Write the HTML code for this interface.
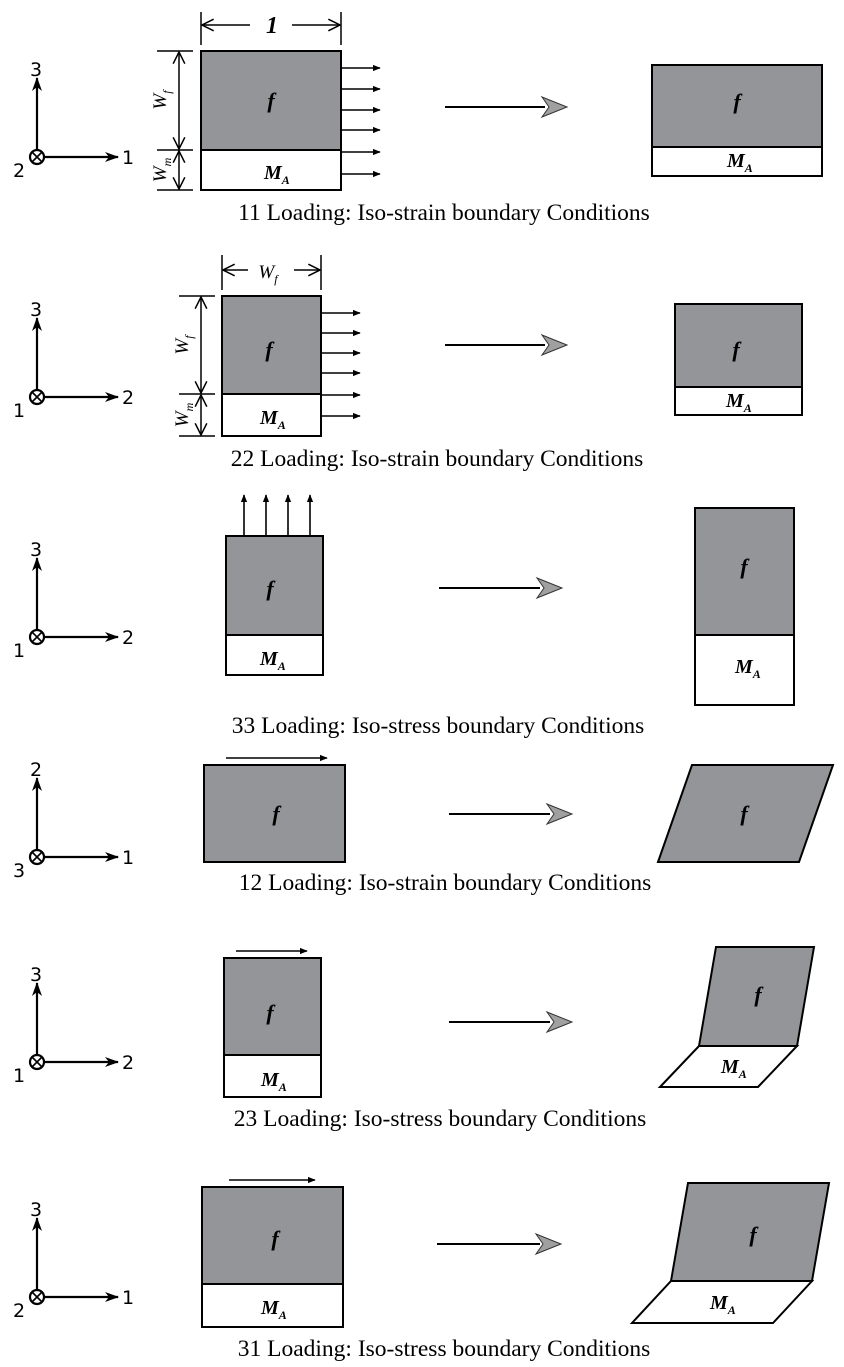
<!DOCTYPE html>
<html><head><meta charset="utf-8"><style>
html,body{margin:0;padding:0;background:#fff}
svg{display:block}
.ax{font-family:"DejaVu Sans",sans-serif;font-size:19px}
.cap{font-family:"Liberation Serif",serif;font-size:23.5px}
.it{font-family:"Liberation Serif",serif;font-style:italic;font-weight:bold}
</style></head><body>
<svg width="844" height="1367" viewBox="0 0 844 1367" xmlns="http://www.w3.org/2000/svg">
<defs>
<marker id="a" viewBox="0 0 14 12" refX="13" refY="6" markerWidth="14" markerHeight="12" markerUnits="userSpaceOnUse" orient="auto"><path d="M0,1 L14,6 L0,11 L4,6z" fill="#000"/></marker>
<marker id="s" viewBox="0 0 10 10" refX="9" refY="5" markerWidth="8" markerHeight="8" markerUnits="userSpaceOnUse" orient="auto"><path d="M0,1 L10,5 L0,9z" fill="#000"/></marker>
<marker id="o" viewBox="0 0 12 12" refX="11" refY="6" markerWidth="14" markerHeight="14" markerUnits="userSpaceOnUse" orient="auto-start-reverse"><path d="M1,1 L11,6 L1,11" fill="none" stroke="#000" stroke-width="1.3"/></marker>
<g id="bigArrowHead"><path d="M-25,-10 L0,0 L-25,10 L-18,0z" fill="#a0a0a0" stroke="#333" stroke-width="1"/></g>
</defs>

<g stroke="#000" stroke-width="2.2" fill="none">
<line x1="44" y1="157" x2="118" y2="157" marker-end="url(#a)"/><line x1="37" y1="150" x2="37" y2="78" marker-end="url(#a)"/><circle cx="37" cy="157" r="7"/><path d="M32,152 L42,162 M42,152 L32,162" stroke-width="1.6"/>
<line x1="44" y1="397" x2="118" y2="397" marker-end="url(#a)"/><line x1="37" y1="390" x2="37" y2="318" marker-end="url(#a)"/><circle cx="37" cy="397" r="7"/><path d="M32,392 L42,402 M42,392 L32,402" stroke-width="1.6"/>
<line x1="44" y1="637" x2="118" y2="637" marker-end="url(#a)"/><line x1="37" y1="630" x2="37" y2="558" marker-end="url(#a)"/><circle cx="37" cy="637" r="7"/><path d="M32,632 L42,642 M42,632 L32,642" stroke-width="1.6"/>
<line x1="44" y1="857" x2="118" y2="857" marker-end="url(#a)"/><line x1="37" y1="850" x2="37" y2="778" marker-end="url(#a)"/><circle cx="37" cy="857" r="7"/><path d="M32,852 L42,862 M42,852 L32,862" stroke-width="1.6"/>
<line x1="44" y1="1062" x2="118" y2="1062" marker-end="url(#a)"/><line x1="37" y1="1055" x2="37" y2="983" marker-end="url(#a)"/><circle cx="37" cy="1062" r="7"/><path d="M32,1057 L42,1067 M42,1057 L32,1067" stroke-width="1.6"/>
<line x1="44" y1="1297" x2="118" y2="1297" marker-end="url(#a)"/><line x1="37" y1="1290" x2="37" y2="1218" marker-end="url(#a)"/><circle cx="37" cy="1297" r="7"/><path d="M32,1292 L42,1302 M42,1292 L32,1302" stroke-width="1.6"/>
</g>
<g class="ax">
<text x="30" y="76">3</text><text x="122" y="164">1</text><text x="13" y="177">2</text>
<text x="30" y="316">3</text><text x="122" y="404">2</text><text x="13" y="417">1</text>
<text x="30" y="556">3</text><text x="122" y="644">2</text><text x="13" y="657">1</text>
<text x="30" y="776">2</text><text x="122" y="864">1</text><text x="13" y="877">3</text>
<text x="30" y="981">3</text><text x="122" y="1069">2</text><text x="13" y="1082">1</text>
<text x="30" y="1216">3</text><text x="122" y="1304">1</text><text x="13" y="1317">2</text>
</g>

<g stroke="#000" stroke-width="2" fill="none">
<rect x="201" y="51" width="140" height="99" fill="#939598"/><rect x="201" y="150" width="140" height="40" fill="#fff"/>
<g stroke-width="1.6">
<line x1="341" y1="68" x2="380" y2="68" marker-end="url(#s)"/>
<line x1="341" y1="89" x2="380" y2="89" marker-end="url(#s)"/>
<line x1="341" y1="110" x2="380" y2="110" marker-end="url(#s)"/>
<line x1="341" y1="130" x2="380" y2="130" marker-end="url(#s)"/>
<line x1="341" y1="152" x2="380" y2="152" marker-end="url(#s)"/>
<line x1="341" y1="174" x2="380" y2="174" marker-end="url(#s)"/>
</g>
<g stroke-width="1.5">
<line x1="201" y1="12" x2="201" y2="45"/><line x1="341" y1="12" x2="341" y2="45"/>
<line x1="250" y1="25" x2="202" y2="25" marker-end="url(#o)"/><line x1="292" y1="25" x2="340" y2="25" marker-end="url(#o)"/>
<line x1="157" y1="51" x2="193" y2="51"/><line x1="157" y1="150" x2="193" y2="150"/><line x1="157" y1="190" x2="193" y2="190"/>
<line x1="179" y1="52" x2="179" y2="149" marker-start="url(#o)" marker-end="url(#o)"/>
<line x1="179" y1="151" x2="179" y2="189" marker-start="url(#o)" marker-end="url(#o)"/>
</g>
<line x1="445" y1="107" x2="545" y2="107"/>
<rect x="652" y="65" width="170" height="82" fill="#939598"/><rect x="652" y="147" width="170" height="29" fill="#fff"/>

<rect x="222" y="296" width="99" height="98" fill="#939598"/><rect x="222" y="394" width="99" height="42" fill="#fff"/>
<g stroke-width="1.6">
<line x1="321" y1="313" x2="360" y2="313" marker-end="url(#s)"/>
<line x1="321" y1="333" x2="360" y2="333" marker-end="url(#s)"/>
<line x1="321" y1="353" x2="360" y2="353" marker-end="url(#s)"/>
<line x1="321" y1="373" x2="360" y2="373" marker-end="url(#s)"/>
<line x1="321" y1="395" x2="360" y2="395" marker-end="url(#s)"/>
<line x1="321" y1="416" x2="360" y2="416" marker-end="url(#s)"/>
</g>
<g stroke-width="1.5">
<line x1="222" y1="255" x2="222" y2="290"/><line x1="321" y1="255" x2="321" y2="290"/>
<line x1="248" y1="270" x2="223" y2="270" marker-end="url(#o)"/><line x1="294" y1="270" x2="320" y2="270" marker-end="url(#o)"/>
<line x1="179" y1="296" x2="215" y2="296"/><line x1="179" y1="394" x2="215" y2="394"/><line x1="179" y1="436" x2="215" y2="436"/>
<line x1="201" y1="297" x2="201" y2="393" marker-start="url(#o)" marker-end="url(#o)"/>
<line x1="201" y1="395" x2="201" y2="435" marker-start="url(#o)" marker-end="url(#o)"/>
</g>
<line x1="445" y1="345" x2="545" y2="345"/>
<rect x="675" y="304" width="127" height="83" fill="#939598"/><rect x="675" y="387" width="127" height="28" fill="#fff"/>

<rect x="226" y="536" width="97" height="99" fill="#939598"/><rect x="226" y="635" width="97" height="40" fill="#fff"/>
<g stroke-width="1.6">
<line x1="244" y1="536" x2="244" y2="495" marker-end="url(#s)"/>
<line x1="266" y1="536" x2="266" y2="495" marker-end="url(#s)"/>
<line x1="288" y1="536" x2="288" y2="495" marker-end="url(#s)"/>
<line x1="310" y1="536" x2="310" y2="495" marker-end="url(#s)"/>
</g>
<line x1="439" y1="588" x2="540" y2="588"/>
<rect x="695" y="508" width="99" height="127" fill="#939598"/><rect x="695" y="635" width="99" height="70" fill="#fff"/>

<rect x="204" y="765" width="141" height="97" fill="#939598"/>
<line x1="226" y1="758" x2="327" y2="758" marker-end="url(#s)" stroke-width="1.6"/>
<line x1="449" y1="814" x2="550" y2="814"/>
<path d="M658,862 L692,765 L833,765 L799,862z" fill="#939598"/>

<rect x="224" y="958" width="97" height="97" fill="#939598"/><rect x="224" y="1055" width="97" height="42" fill="#fff"/>
<line x1="236" y1="951" x2="307" y2="951" marker-end="url(#s)" stroke-width="1.6"/>
<line x1="449" y1="1022" x2="550" y2="1022"/>
<path d="M699,1046 L716,947 L814,947 L797,1046z" fill="#939598"/>
<path d="M660,1087 L699,1046 L797,1046 L758,1087z" fill="#fff"/>

<rect x="202" y="1187" width="141" height="97" fill="#939598"/><rect x="202" y="1284" width="141" height="43" fill="#fff"/>
<line x1="229" y1="1180" x2="315" y2="1180" marker-end="url(#s)" stroke-width="1.6"/>
<line x1="437" y1="1244" x2="540" y2="1244"/>
<path d="M671,1281 L688,1183 L829,1183 L812,1281z" fill="#939598"/>
<path d="M632,1323 L671,1281 L812,1281 L773,1323z" fill="#fff"/>
</g>

<use href="#bigArrowHead" x="567" y="107"/>
<use href="#bigArrowHead" x="567" y="345"/>
<use href="#bigArrowHead" x="562" y="588"/>
<use href="#bigArrowHead" x="572" y="814"/>
<use href="#bigArrowHead" x="572" y="1022"/>
<use href="#bigArrowHead" x="561" y="1244"/>

<g class="it" font-size="22" text-anchor="middle">
<text x="271" y="108">f</text><text x="737" y="109">f</text>
<text x="269" y="357">f</text><text x="736" y="357">f</text>
<text x="270" y="596">f</text><text x="744" y="574">f</text>
<text x="276" y="821">f</text><text x="744" y="821">f</text>
<text x="270" y="1020">f</text><text x="758" y="1002">f</text>
<text x="275" y="1246">f</text><text x="753" y="1242">f</text>
</g>
<g class="it" font-size="20">
<text x="264" y="179">M<tspan font-size="12" dy="5">A</tspan></text>
<text x="727" y="167">M<tspan font-size="12" dy="5">A</tspan></text>
<text x="260" y="424">M<tspan font-size="12" dy="5">A</tspan></text>
<text x="726" y="407">M<tspan font-size="12" dy="5">A</tspan></text>
<text x="260" y="665">M<tspan font-size="12" dy="5">A</tspan></text>
<text x="735" y="673">M<tspan font-size="12" dy="5">A</tspan></text>
<text x="261" y="1086">M<tspan font-size="12" dy="5">A</tspan></text>
<text x="721" y="1073">M<tspan font-size="12" dy="5">A</tspan></text>
<text x="261" y="1314">M<tspan font-size="12" dy="5">A</tspan></text>
<text x="710" y="1309">M<tspan font-size="12" dy="5">A</tspan></text>
</g>
<g font-family="Liberation Serif,serif" font-style="italic" font-size="19" text-anchor="middle">
<text x="272" y="33" font-weight="bold" font-size="24">1</text>
<text x="268" y="278">W<tspan font-size="12" dy="5">f</tspan></text>
<text transform="translate(166,100) rotate(-90)">W<tspan font-size="12" dy="5">f</tspan></text>
<text transform="translate(166,170) rotate(-90)">W<tspan font-size="12" dy="5">m</tspan></text>
<text transform="translate(188,345) rotate(-90)">W<tspan font-size="12" dy="5">f</tspan></text>
<text transform="translate(188,415) rotate(-90)">W<tspan font-size="12" dy="5">m</tspan></text>
</g>
<g class="cap" text-anchor="middle">
<text x="444" y="220">11 Loading: Iso-strain boundary Conditions</text>
<text x="437" y="466">22 Loading: Iso-strain boundary Conditions</text>
<text x="438" y="733">33 Loading: Iso-stress boundary Conditions</text>
<text x="445" y="890">12 Loading: Iso-strain boundary Conditions</text>
<text x="440" y="1126">23 Loading: Iso-stress boundary Conditions</text>
<text x="444" y="1356">31 Loading: Iso-stress boundary Conditions</text>
</g>
</svg>
</body></html>
